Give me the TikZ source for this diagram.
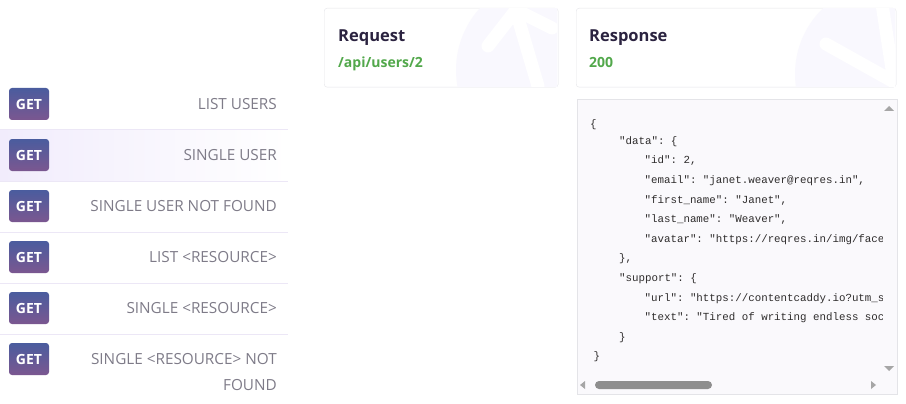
\documentclass[tikz,border=0pt]{standalone}
\usepackage{fontspec}
\setmainfont{Open Sans}
\setmonofont{Liberation Mono}
\usetikzlibrary{calc}

\definecolor{badgetop}{HTML}{4A5C9E}
\definecolor{badgebot}{HTML}{7B5790}
\definecolor{labelgray}{HTML}{7E7B88}
\definecolor{titlecol}{HTML}{2B2340}
\definecolor{okgreen}{HTML}{52A84B}
\definecolor{sepline}{HTML}{ECE7F6}
\definecolor{rowhl}{HTML}{F1ECFC}
\definecolor{boxline}{HTML}{E4E4E8}
\definecolor{codebg}{HTML}{FAF9FC}
\definecolor{codetxt}{HTML}{2E2C2C}
\definecolor{wmark}{HTML}{F9F8FE}
\definecolor{scrollcol}{HTML}{8E8E8E}
\definecolor{arrowcol}{HTML}{A6A6A6}

\begin{document}
\begin{tikzpicture}[x=1pt, y=-1pt,
  badge/.style={rounded corners=3pt, minimum width=40pt, minimum height=32pt,
    inner sep=0pt, top color=badgetop, bottom color=badgebot, text=white,
    font=\fontsize{14}{16}\selectfont\bfseries},
  endpoint/.style={anchor=east, inner sep=0pt, text=labelgray,
    font=\fontsize{15.3}{26}\selectfont},
  panel/.style={draw=boxline, fill=white, rounded corners=3pt},
  title/.style={anchor=base west, inner sep=0pt, text=titlecol,
    font=\fontsize{16.5}{20}\selectfont\bfseries},
  status/.style={anchor=base west, inner sep=0pt, text=okgreen,
    font=\fontsize{14}{17}\selectfont\bfseries},
  code/.style={anchor=base west, inner sep=0pt, text=codetxt,
    font=\fontsize{10.8}{14}\selectfont\ttfamily},
  sep/.style={draw=sepline, line width=1pt},
  wmarrow/.style={draw=white, line width=13pt, line cap=round, line join=round},
  tri/.style={fill=arrowcol}]
  \useasboundingbox (0,0) rectangle (906,404);
  \def\rowSep{51}
  \def\lineSep{19.6}
  \def\indentSep{25.5}

  % List section: highlight and separators
  \fill[left color=rowhl, right color=white] (0,130) rectangle (288,181);
  \draw[sep] (0,130) -- (288,130);
  \draw[sep] (0,181) -- (288,181);
  \draw[sep] (0,232) -- (288,232);
  \draw[sep] (0,283) -- (288,283);
  \draw[sep] (0,334) -- (288,334);

  % List section: nodes
  \node[badge] (get1) at (29,104) {GET};
  \node[badge] (get2) at ($(get1)+(0,\rowSep)$) {GET};
  \node[badge] (get3) at ($(get2)+(0,\rowSep)$) {GET};
  \node[badge] (get4) at ($(get3)+(0,\rowSep)$) {GET};
  \node[badge] (get5) at ($(get4)+(0,\rowSep)$) {GET};
  \node[badge] (get6) at ($(get5)+(0,\rowSep)$) {GET};
  \node[endpoint] (lbl1) at ($(get1)+(248,0)$) {LIST USERS};
  \node[endpoint] (lbl2) at ($(get2)+(248,0)$) {SINGLE USER};
  \node[endpoint] (lbl3) at ($(get3)+(248,0)$) {SINGLE USER NOT FOUND};
  \node[endpoint] (lbl4) at ($(get4)+(248,0)$) {LIST <RESOURCE>};
  \node[endpoint] (lbl5) at ($(get5)+(248,0)$) {SINGLE <RESOURCE>};
  \node[endpoint, align=right] (lbl6) at ($(get6)+(248,13)$) %
  {SINGLE <RESOURCE> NOT\\FOUND};

  % Request section: panel and watermark
  \node[panel, anchor=north west, minimum width=234pt, minimum height=79pt] %
  (req) at (324,8) {};
  \begin{scope}
    \clip ($(req.north west)+(1,1)$) rectangle ($(req.south east)+(-1,-1)$);
    \fill[wmark] (548,70) circle (92);
    \draw[wmarrow] (488,46) -- (516,10) -- (552,28);
    \draw[wmarrow] (518,18) -- (538,86);
  \end{scope}
  \node[title] (reqT) at ($(req.north west)+(14,33.5)$) {Request};
  \node[status] (reqP) at ($(reqT.base west)+(0,26.5)$) {/api/users/2};

  % Response section: panel and watermark
  \node[panel, anchor=north west, minimum width=320pt, minimum height=79pt] %
  (res) at (576,8) {};
  \begin{scope}
    \clip ($(res.north west)+(1,1)$) rectangle ($(res.south east)+(-1,-1)$);
    \fill[wmark] (886,74) circle (91);
    \draw[wmarrow] (826,44) -- (894,82) -- (882,4);
  \end{scope}
  \node[title] (resT) at ($(res.north west)+(13,33.5)$) {Response};
  \node[status] (resC) at ($(resT.base west)+(0,26.5)$) {200};

  % Body section: box, text and scroll bars
  \node[draw=boxline, fill=codebg, anchor=north west, minimum width=320pt, %
  minimum height=295pt] (body) at (577,99) {};
  \begin{scope}
    \clip (578,100) rectangle (882,372);
    \node[code] (c0) at (590,127.5) {\{};
    \node[code] (c1) at ($(c0)+(\indentSep,\lineSep)$) {"data": \{};
    \node[code] (c2) at ($(c0)+(2*\indentSep,2*\lineSep)$) {"id": 2,};
    \node[code] (c3) at ($(c0)+(2*\indentSep,3*\lineSep)$) %
    {"email": "janet.weaver@reqres.in",};
    \node[code] (c4) at ($(c0)+(2*\indentSep,4*\lineSep)$) %
    {"first\_name": "Janet",};
    \node[code] (c5) at ($(c0)+(2*\indentSep,5*\lineSep)$) %
    {"last\_name": "Weaver",};
    \node[code] (c6) at ($(c0)+(2*\indentSep,6*\lineSep)$) %
    {"avatar": "https://reqres.in/img/face};
    \node[code] (c7) at ($(c0)+(\indentSep,7*\lineSep)$) {\},};
    \node[code] (c8) at ($(c0)+(\indentSep,8*\lineSep)$) {"support": \{};
    \node[code] (c9) at ($(c0)+(2*\indentSep,9*\lineSep)$) %
    {"url": "https://contentcaddy.io?utm\_s};
    \node[code] (c10) at ($(c0)+(2*\indentSep,10*\lineSep)$) %
    {"text": "Tired of writing endless soc};
    \node[code] (c11) at ($(c0)+(\indentSep,11*\lineSep)$) {\}};
    \node[code] (c12) at ($(c0)+(0,12*\lineSep)$) {\}};
  \end{scope}
  \fill[scrollcol, rounded corners=4pt] (595,381) rectangle (712,389);
  \fill[tri] (580,385) -- (585,381) -- (585,389) -- cycle;
  \fill[tri] (876,385) -- (871,381) -- (871,389) -- cycle;
  \fill[tri] (889,106) -- (894,111) -- (884,111) -- cycle;
  \fill[tri] (889,371) -- (894,366) -- (884,366) -- cycle;
\end{tikzpicture}
\end{document}
